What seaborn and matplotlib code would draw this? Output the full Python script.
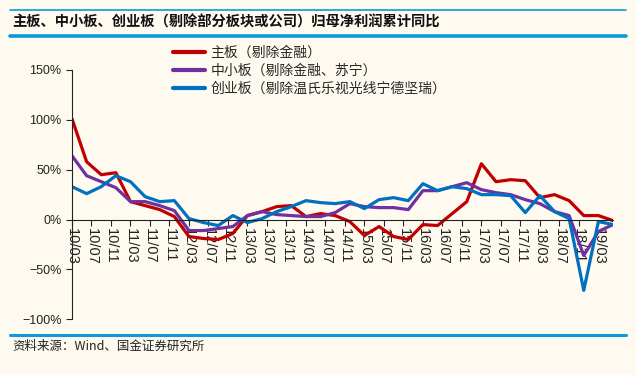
import pandas as pd
import matplotlib.pyplot as plt
import seaborn as sns
from matplotlib.lines import Line2D
from matplotlib.ticker import FuncFormatter

# quarterly data, 2010-03 .. 2019-06 (cumulative YoY, %)
quarters = pd.period_range("2010Q1", "2019Q2", freq="Q")
main_board = [101, 58, 45, 47, 18, 14, 10, 3, -17, -19, -20, -14, 4, 8, 13, 14,
              3, 6, 4, -2, -16, -7, -17, -20, -5, -6, 6, 18, 56, 38, 40, 39,
              22, 25, 19, 4, 4, -1]
sme_board = [64, 44, 38, 32, 18, 18, 14, 9, -11, -11, -9, -7, 4, 8, 5, 4,
             3, 3, 7, 16, 13, 12, 12, 10, 29, 29, 33, 37, 30, 27, 25, 20,
             16, 8, 4, -36, -12, -5]
chinext = [33, 26, 33, 44, 38, 23, 18, 19, 1, -3, -6, 4, -3, 1, 8, 13,
           19, 17, 16, 18, 11, 20, 22, 19, 36, 29, 33, 31, 25, 25, 24, 7,
           24, 8, 1, -71, -2, -5]
series_names = ["主板（剔除金融）", "中小板（剔除金融、苏宁）", "创业板（剔除温氏乐视光线宁德坚瑞）"]
series_colors = ["#C00000", "#7030A0", "#0070C0"]

# tick labels every 4 months starting 10/03
tick_months = list(range(0, 109, 4))
tick_labels = [f"{(10 + (2 + m) // 12):02d}/{(2 + m) % 12 + 1:02d}" for m in tick_months]

months = [(q.year - 2010) * 12 + q.quarter * 3 - 3 for q in quarters]
df = pd.concat([
    pd.DataFrame({"month": months, "value": vals, "series": name})
    for name, vals in zip(series_names, [main_board, sme_board, chinext])
])

bg = "#FEFAF0"
rule = "#0A9AD7"

sns.set_style("white")
plt.rcParams["font.family"] = ["Liberation Sans", "Noto Sans CJK SC", "DejaVu Sans"]

fig = plt.figure(figsize=(6.36, 3.75), dpi=100, facecolor=bg)
ax = fig.add_axes([72 / 636, 1 - 319.3 / 375, (613 - 72) / 636, (319.3 - 70) / 375])
ax.set_facecolor(bg)

sns.lineplot(data=df, x="month", y="value", hue="series", palette=series_colors,
             hue_order=series_names, linewidth=2.3, ax=ax, legend=False)

# spines first: set_position resets tick settings
for s in ["top", "right"]:
    ax.spines[s].set_visible(False)
ax.spines["bottom"].set_position(("data", 0))
for s in ["left", "bottom"]:
    ax.spines[s].set_color("#222222")
    ax.spines[s].set_linewidth(0.8)

ax.set_xlim(0, 111)
ax.set_ylim(-100, 150)
ax.set_yticks([-100, -50, 0, 50, 100, 150])
ax.yaxis.set_major_formatter(FuncFormatter(lambda v, p: f"{v:.0f}%".replace("-", "\u2212")))
ax.set_xticks(tick_months)
ax.set_xticklabels(tick_labels)
ax.tick_params(axis="y", labelsize=9, colors="#222222", length=4, width=0.8, direction="out", left=True)
ax.tick_params(axis="x", labelsize=10.5, labelcolor="#222222", length=4, width=0.8,
               direction="out", bottom=True, pad=2, labelrotation=-90)
ax.set_xlabel("")
ax.set_ylabel("")

handles = [Line2D([], [], color=c, linewidth=3) for c in series_colors]
fig.legend(handles, series_names, loc="upper left", bbox_to_anchor=(173 / 636, 1 - 46 / 375),
           frameon=False, handlelength=2.3, handletextpad=0.4,
           labelspacing=0.27, borderpad=0, borderaxespad=0,
           prop={"family": ["Noto Sans CJK SC", "DejaVu Sans"], "size": 10})

# title block with rules
fig.add_artist(Line2D([10 / 636, 626 / 636], [1 - 9.5 / 375] * 2, color=rule, linewidth=1.2))
fig.add_artist(Line2D([10 / 636, 626 / 636], [1 - 35.5 / 375] * 2, color=rule, linewidth=2.6))
fig.text(12 / 636, 1 - 22.5 / 375, "主板、中小板、创业板（剔除部分板块或公司）归母净利润累计同比",
         fontsize=10.3, fontweight="bold", va="center", ha="left", color="#111111",
         family=["Noto Sans CJK SC", "DejaVu Sans"])

# source
fig.add_artist(Line2D([10 / 636, 626 / 636], [1 - 334.7 / 375] * 2, color=rule, linewidth=2.2))
fig.text(12 / 636, 1 - 346 / 375, "资料来源：Wind、国金证券研究所", fontsize=9, va="center",
         ha="left", color="#222222", family=["Noto Sans CJK SC", "DejaVu Sans"])

fig.savefig("out.png", dpi=100, facecolor=bg)
